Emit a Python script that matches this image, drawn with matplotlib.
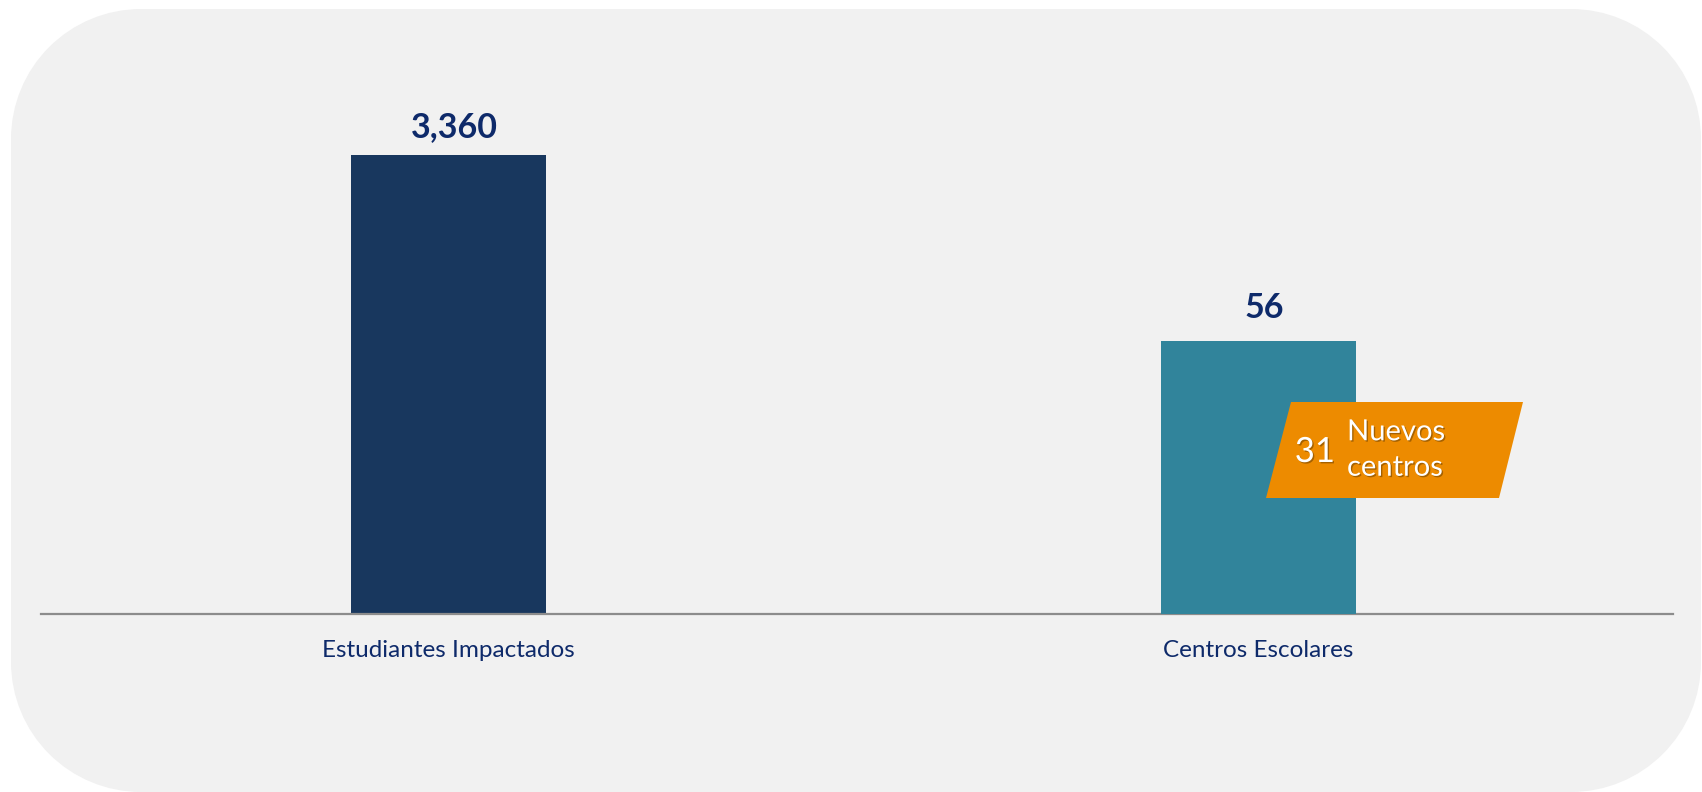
import matplotlib
matplotlib.use("Agg")
import numpy as np
import matplotlib.pyplot as plt
import matplotlib.patheffects as pe
from matplotlib.patches import PathPatch, Polygon
from matplotlib.path import Path
from matplotlib.transforms import Affine2D

plt.rcParams['font.family'] = ['Lato', 'DejaVu Sans']

# data
categories = ["Estudiantes Impactados", "Centros Escolares"]
estudiantes = [3360]
centros = [56]
nuevos_centros = 31

navy = "#18375E"
teal = "#31849B"
orange = "#ED8B00"
text_blue = "#0E2A6A"
panel = "#F1F1F1"

W, H = 1702, 792


def rounded_rect(x0, y0, x1, y1, r):
    # rectangle with circular corners, built from arc pieces
    verts, codes = [], []
    corners = [((x1 - r, y0 + r), 270, 360), ((x1 - r, y1 - r), 0, 90),
               ((x0 + r, y1 - r), 90, 180), ((x0 + r, y0 + r), 180, 270)]
    for (cx, cy), t1, t2 in corners:
        arc = Path.arc(t1, t2)
        pts = Affine2D().scale(r).translate(cx, cy).transform(arc.vertices)
        c = list(arc.codes)
        if verts:
            c[0] = Path.LINETO
        verts.extend(pts)
        codes.extend(c)
    verts.append(verts[0])
    codes.append(Path.CLOSEPOLY)
    return Path(np.array(verts), codes)


fig = plt.figure(figsize=(W / 100, H / 100), dpi=100)

# grey panel behind everything (pixel coords, y down)
bg = fig.add_axes([0, 0, 1, 1], zorder=0)
bg.set_xlim(0, W)
bg.set_ylim(H, 0)
bg.axis("off")
bg.add_patch(PathPatch(rounded_rect(11, 9, 1701, 792, 130),
                       facecolor=panel, edgecolor="none"))

# bars: two scales, one per category
ax = fig.add_axes([41 / W, (H - 614) / H, 1632 / W, 546 / H], zorder=1)
ax.set_facecolor("none")
b1 = ax.bar([0], estudiantes, width=0.241, color=navy)
ax.set_xlim(-0.503, 1.512)
ax.set_ylim(0, 4000)

ax2 = ax.twinx()
b2 = ax2.bar([1], centros, width=0.241, color=teal)
ax2.set_ylim(0, 112)

for a in (ax, ax2):
    for s in ("top", "left", "right"):
        a.spines[s].set_visible(False)
    a.set_yticks([])
ax2.spines["bottom"].set_visible(False)
ax.spines["bottom"].set_color("#8C8C8C")
ax.spines["bottom"].set_linewidth(1.6)

ax.set_xticks([0, 1])
ax.set_xticklabels(categories, fontsize=17.5, color=text_blue)
ax.tick_params(axis="x", length=0, pad=19)

# value labels above the bars
for a, x, v, dy in ((ax, 0, estudiantes[0], 9), (ax2, 1, centros[0], 12)):
    a.annotate(f"{v:,}", (x, v), xytext=(4, dy), textcoords="offset points",
               ha="center", va="bottom", fontsize=24.5, fontweight="bold",
               color=text_blue)

# orange callout for new schools
ov = fig.add_axes([0, 0, 1, 1], zorder=5)
ov.set_xlim(0, W)
ov.set_ylim(H, 0)
ov.axis("off")
ov.add_patch(Polygon([(1291, 402), (1523, 402), (1499, 498), (1266, 498)],
                     closed=True, facecolor=orange, edgecolor="none"))
shadow = [pe.SimplePatchShadow(offset=(1.0, -1.0), shadow_rgbFace="black", alpha=0.3),
          pe.Normal()]
ov.text(1315, 452, str(nuevos_centros), fontsize=25, color="white",
        ha="center", va="center", path_effects=shadow)
ov.text(1347, 450, "Nuevos\ncentros", fontsize=21, color="white",
        ha="left", va="center", linespacing=1.45, path_effects=shadow)

fig.savefig("out.png", dpi=100, facecolor="white")
